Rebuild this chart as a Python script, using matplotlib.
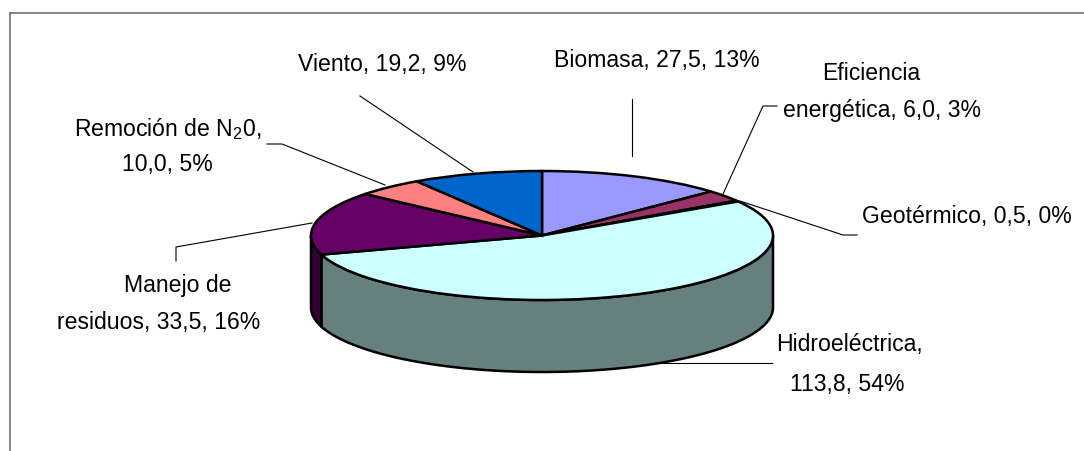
#3D looking pie of the renewable energy breakdown
import numpy as np
import matplotlib
matplotlib.use('Agg')
import matplotlib.pyplot as plt
from matplotlib.patches import Polygon

W, H = 1084, 452

plt.rcParams['font.family'] = ['Liberation Sans', 'DejaVu Sans']
plt.rcParams['mathtext.default'] = 'regular'

#the data, clockwise from 12 o'clock
names = ['Biomasa', 'Eficiencia energética', 'Geotérmico', 'Hidroeléctrica',
         'Manejo de residuos', 'Remoción de N2O', 'Viento']
values = [27.5, 6.0, 0.5, 113.8, 33.5, 10.0, 19.2]
topColors = ['#9999FF', '#993366', '#FFFFCC', '#CCFFFF', '#660066', '#FF8080', '#0066CC']
sideColors = ['#666699', '#662244', '#808066', '#668080', '#330033', '#804040', '#003366']

#label lines
labelLines = ['Viento, 19,2, 9%', 'Biomasa, 27,5, 13%', 'Eficiencia', 'energética, 6,0, 3%',
              'Geotérmico, 0,5, 0%', 'Remoción de N$_{2}$0,', '10,0, 5%', 'Manejo de',
              'residuos, 33,5, 16%', 'Hidroeléctrica,', '113,8, 54%']
labelX = [382, 657, 871, 882, 967, 168, 167, 178, 159, 849, 847]
labelY = [65, 61, 73, 111, 217, 129, 165, 286, 323, 345, 385]

#leader lines
leaders = [
    [(360, 97), (473, 173)],
    [(632, 100), (632, 157)],
    [(777, 107), (763, 107), (723, 195)],
    [(857, 236), (843, 236), (740, 202)],
    [(267, 145), (282, 145), (385, 186)],
    [(176, 262), (176, 248), (312, 224)],
    [(660, 364), (772, 364)],
]

#pie geometry in pixels
left, right, top, bottom = 311, 773, 172, 301
depth = 72

fig = plt.figure(figsize=(W / 100, H / 100), dpi=100)

#overlay in pixel coordinates for frame, leaders and text
bg = fig.add_axes([0, 0, 1, 1])
bg.set_xlim(0, W)
bg.set_ylim(H, 0)
bg.axis('off')
bg.plot([10, 10], [H, 14], color='#707070', lw=1.2)
bg.plot([10, W], [14, 14], color='#707070', lw=1.2)
for leader in leaders:
    xs, ys = zip(*leader)
    bg.plot(xs, ys, color='black', lw=0.8)
for x, y, text in zip(labelX, labelY, labelLines):
    bg.text(x, y, text, ha='center', va='center', fontsize=16.6, color='black')

#pie axes stretched so the circle turns into the ellipse
ax = fig.add_axes([left / W, 1 - bottom / H, (right - left) / W, (bottom - top) / H])
ax.patch.set_alpha(0)
wedges, _ = ax.pie(values, colors=topColors, startangle=90, counterclock=False,
                   radius=1, wedgeprops={'edgecolor': 'black', 'linewidth': 1.8, 'clip_on': False, 'zorder': 5})
ax.set_aspect('auto')
ax.set_xlim(-1, 1)
ax.set_ylim(-1, 1)
ax.axis('off')

#side wall, only the front half (clockwise angle 90 to 270) can be seen
drop = depth / ((bottom - top) / 2)
edges = np.concatenate([[0], np.cumsum(values)]) / np.sum(values) * 2 * np.pi
for i in range(len(values)):
    start = max(edges[i], np.pi / 2)
    stop = min(edges[i + 1], 3 * np.pi / 2)
    if stop <= start:
        continue
    t = np.linspace(start, stop, 200)
    xs = np.sin(t)
    ys = np.cos(t)
    pts = np.column_stack([np.concatenate([xs, xs[::-1]]),
                           np.concatenate([ys, ys[::-1] - drop])])
    ax.add_patch(Polygon(pts, closed=True, facecolor=sideColors[i], edgecolor='black',
                         linewidth=1.8, clip_on=False, zorder=2))

fig.savefig('out.png', dpi=100)
